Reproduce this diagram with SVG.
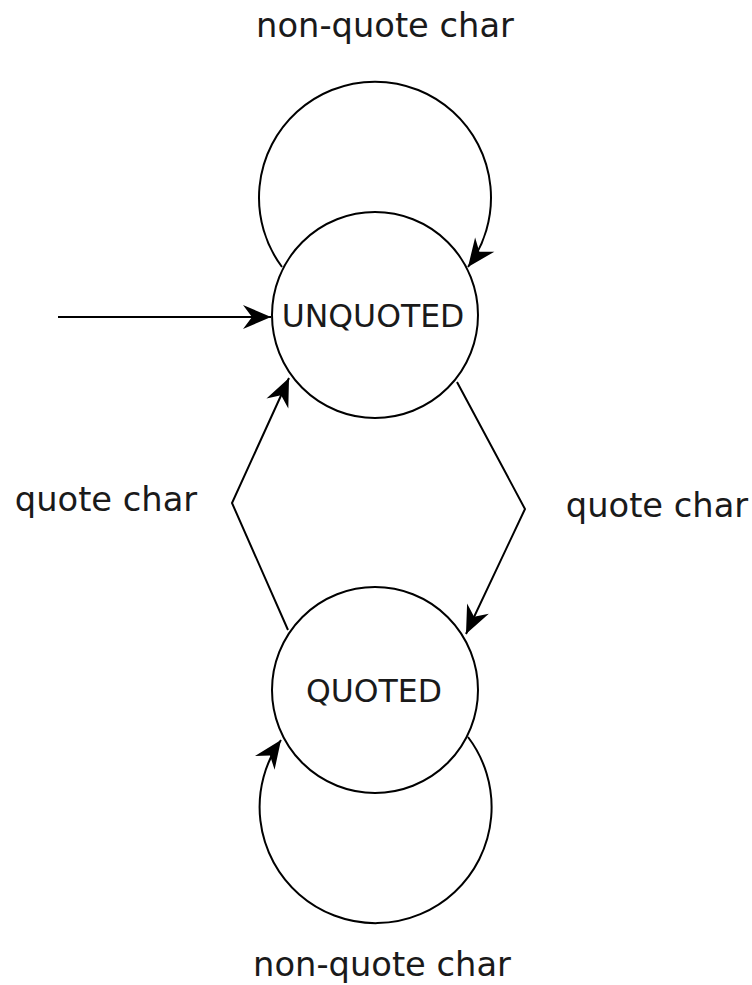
<svg xmlns="http://www.w3.org/2000/svg" width="752" height="985" viewBox="0 0 752 985">
<style>
.state{fill:#fff;stroke:#000;stroke-width:2}
.edge{fill:none;stroke:#000;stroke-width:2;marker-end:url(#arr)}
text{font-family:"DejaVu Sans",sans-serif;fill:#1a1a1a;text-anchor:middle}
.lbl{font-size:33.7px}
.st{font-size:31.5px}
</style>
<defs>
<marker id="arr" markerUnits="userSpaceOnUse" viewBox="-30 -14 32 28" refX="0" refY="0" markerWidth="32" markerHeight="28" orient="auto">
<path d="M0,0 L-28,-12 L-19,0 L-28,12 Z" fill="#000"/>
</marker>
</defs>
<rect width="752" height="985" fill="#fff"/>
<g id="connectors">
<path class="edge" d="M58,317 L271,317"/>
<path class="edge" d="M282,267 A116,116 0 1 1 468,267"/>
<path class="edge" d="M457,382 L525,509 L466,634"/>
<path class="edge" d="M288,630 L232,503 L289,378"/>
<path class="edge" d="M468,737 A116,116 0 1 1 281,740"/>
</g>
<g id="unquoted">
<circle class="state" cx="375" cy="315" r="103"/>
<text class="st" x="373" y="327">UNQUOTED</text>
</g>
<g id="quoted">
<circle class="state" cx="375" cy="690" r="103"/>
<text class="st" x="374" y="702">QUOTED</text>
</g>
<g id="labels">
<text class="lbl" x="385" y="37">non-quote char</text>
<text class="lbl" x="382" y="976">non-quote char</text>
<text class="lbl" x="106" y="511">quote char</text>
<text class="lbl" x="657" y="517">quote char</text>
</g>
</svg>
